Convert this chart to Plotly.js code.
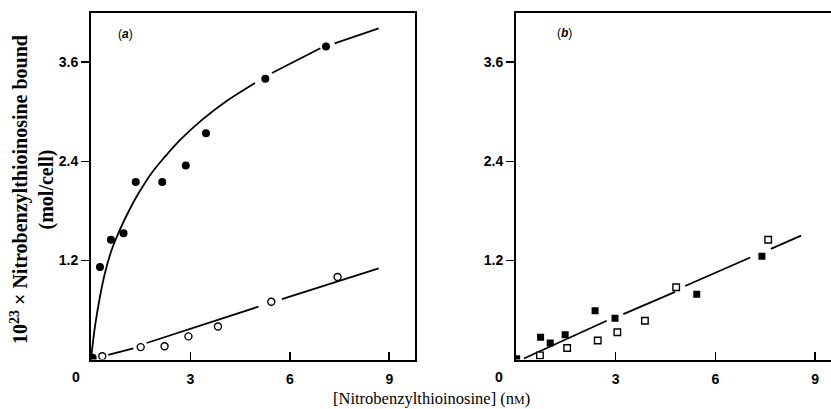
<!DOCTYPE html>
<html>
<head>
<meta charset="utf-8">
<script src="https://cdn.plot.ly/plotly-3.0.1.min.js"></script>
<style>html,body{margin:0;padding:0;background:#fff;}#chart{width:831px;height:409px;}</style>
</head>
<body>
<div id="chart"></div>
<script>
// Panel (a): filled circles (total binding) and open circles (non-specific)
const aFilledX = [0.05, 0.27, 0.60, 0.98, 1.35, 2.15, 2.86, 3.47, 5.26, 7.09];
const aFilledY = [0.02, 1.12, 1.45, 1.53, 2.15, 2.15, 2.35, 2.74, 3.40, 3.79];
const aOpenX = [0.34, 1.50, 2.22, 2.94, 3.83, 5.44, 7.44];
const aOpenY = [0.04, 0.15, 0.16, 0.28, 0.40, 0.70, 1.00];
// Curve through filled circles (null = break in line)
const aCurveX = [0.00, 0.02, 0.12, 0.27, 0.42, 0.625, 0.88, 1.13, 1.43, 1.83, 2.24, 2.69, 3.34, 4.05, 4.95, null, 5.46, 6.92, null, 7.35, 8.68];
const aCurveY = [0.00, 0.075, 0.40, 0.76, 1.045, 1.33, 1.58, 1.79, 2.01, 2.26, 2.46, 2.66, 2.90, 3.12, 3.35, null, 3.47, 3.77, null, 3.83, 4.01];
// Straight line through open circles
const aLineX = [0.52, 1.28, null, 1.68, 5.05, null, 5.76, 8.68];
const aLineY = [0.055, 0.135, null, 0.20, 0.64, null, 0.73, 1.105];

// Panel (b): filled squares and open squares
const bFilledX = [0.02, 0.74, 1.03, 1.48, 2.38, 2.98, 5.44, 7.40];
const bFilledY = [0.01, 0.27, 0.20, 0.30, 0.59, 0.50, 0.79, 1.25];
const bOpenX = [0.72, 1.54, 2.46, 3.05, 3.88, 4.82, 7.59];
const bOpenY = [0.05, 0.14, 0.23, 0.33, 0.47, 0.875, 1.45];
const bLineX = [0.24, 2.73, null, 3.23, 4.79, null, 5.09, 7.05, null, 7.67, 8.58];
const bLineY = [0.012, 0.47, null, 0.55, 0.82, null, 0.89, 1.235, null, 1.34, 1.50];

const xTickVals = [3, 6, 9];
const xTickText = ['3', '6', '9'];
const yTickVals = [1.2, 2.4, 3.6];
const yTickText = ['1.2', '2.4', '3.6'];

const W = 831, H = 409;
const lineStyle = {color: '#000', width: 1.8};
const traces = [
  {x: aCurveX, y: aCurveY, mode: 'lines', line: Object.assign({shape: 'spline', smoothing: 1}, lineStyle), connectgaps: false, xaxis: 'x', yaxis: 'y', hoverinfo: 'skip'},
  {x: aLineX, y: aLineY, mode: 'lines', line: lineStyle, connectgaps: false, xaxis: 'x', yaxis: 'y', hoverinfo: 'skip'},
  {x: aFilledX, y: aFilledY, mode: 'markers', marker: {symbol: 'circle', size: 8, color: '#000'}, xaxis: 'x', yaxis: 'y'},
  {x: aOpenX, y: aOpenY, mode: 'markers', marker: {symbol: 'circle', size: 7, color: '#fff', line: {color: '#000', width: 1.4}}, xaxis: 'x', yaxis: 'y'},
  {x: bLineX, y: bLineY, mode: 'lines', line: lineStyle, connectgaps: false, xaxis: 'x2', yaxis: 'y2', hoverinfo: 'skip'},
  {x: bFilledX, y: bFilledY, mode: 'markers', marker: {symbol: 'square', size: 7, color: '#000'}, xaxis: 'x2', yaxis: 'y2'},
  {x: bOpenX, y: bOpenY, mode: 'markers', marker: {symbol: 'square', size: 6.5, color: '#fff', line: {color: '#000', width: 1.4}}, xaxis: 'x2', yaxis: 'y2'}
];

const tickFont = {family: 'Liberation Sans, Arial, sans-serif', size: 14, color: '#000', weight: 'bold'};
function xax(domain, range, mirror) {
  return {domain: domain, range: range, showgrid: false, zeroline: false, showline: true, linecolor: '#000', linewidth: 2,
    mirror: mirror, ticks: 'inside', ticklen: 8, tickwidth: 1.6, tickcolor: '#000',
    tickvals: xTickVals, ticktext: xTickText, tickfont: tickFont, ticklabelstandoff: 6, fixedrange: true};
}
function yax(domain, range, mirror, anchor) {
  return {domain: domain, range: range, anchor: anchor, showgrid: false, zeroline: false, showline: true, linecolor: '#000', linewidth: 2,
    mirror: mirror, ticks: 'outside', ticklen: 8, tickwidth: 1.6, tickcolor: '#000',
    tickvals: yTickVals, ticktext: yTickText, tickfont: tickFont, fixedrange: true};
}
const yDom = [1 - 359.5 / H, 1 - 13 / H];
const panelFont = {family: 'Liberation Sans, Arial, sans-serif', size: 12, color: '#000'};
const layout = {
  width: W, height: H,
  margin: {l: 0, r: 0, t: 0, b: 0},
  paper_bgcolor: '#fff', plot_bgcolor: '#fff',
  showlegend: false,
  xaxis: xax([91 / W, 415 / W], [0, 9.776], true),
  yaxis: yax(yDom, [0, 4.197], true, 'x'),
  xaxis2: Object.assign(xax([516 / W, 1], [0, 9.48], true), {anchor: 'y2'}),
  yaxis2: yax(yDom, [0, 4.197], false, 'x2'),
  annotations: [
    {text: '0', xref: 'paper', yref: 'paper', x: 76 / W, y: 1 - 377 / H, xanchor: 'center', yanchor: 'middle', showarrow: false, font: tickFont},
    {text: '0', xref: 'paper', yref: 'paper', x: 499 / W, y: 1 - 377 / H, xanchor: 'center', yanchor: 'middle', showarrow: false, font: tickFont},
    {text: '(<b><i>a</i></b>)', xref: 'paper', yref: 'paper', x: 126 / W, y: 1 - 34 / H, xanchor: 'center', yanchor: 'middle', showarrow: false, font: panelFont},
    {text: '(<b><i>b</i></b>)', xref: 'paper', yref: 'paper', x: 564 / W, y: 1 - 33 / H, xanchor: 'center', yanchor: 'middle', showarrow: false, font: panelFont},
    {text: '[Nitrobenzylthioinosine] (n<span style="font-size:12px">M</span>)', xref: 'paper', yref: 'paper', x: 431 / W, y: 1 - 398 / H, xanchor: 'center', yanchor: 'middle', showarrow: false, font: {family: 'Liberation Serif, Times New Roman, serif', size: 16.5, color: '#000'}},
    {text: '<b>10<sup>23</sup> × Nitrobenzylthioinosine bound<br>(mol/cell)</b>', xref: 'paper', yref: 'paper', x: 32 / W, y: 1 - 190 / H, xanchor: 'center', yanchor: 'middle', textangle: -90, showarrow: false, font: {family: 'Liberation Serif, Times New Roman, serif', size: 20, color: '#000'}}
  ]
};
Plotly.newPlot('chart', traces, layout, {staticPlot: true, displayModeBar: false});
</script>
</body>
</html>
